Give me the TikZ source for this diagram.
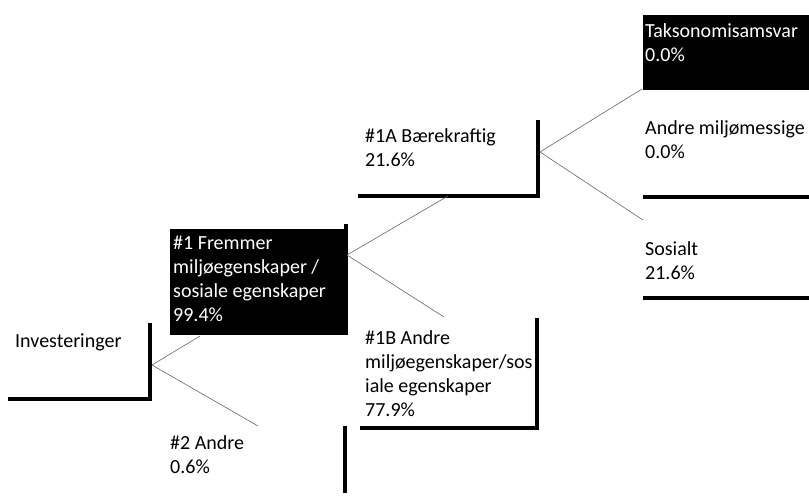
\documentclass[tikz,border=0pt]{standalone}
\usepackage{fontspec}
\setmainfont{Carlito}
\begin{document}
\begin{tikzpicture}[x=1pt,y=-1pt,
        lbl/.style={anchor=north west,inner sep=0pt,align=left,font=\fontsize{20}{24}\selectfont},
        bar/.style={line width=3.5pt},
        link/.style={black!60,line width=0.6pt}]
        \useasboundingbox (0,0) rectangle (809,498);
        % coordinates of the joints
        \coordinate (INV) at (152,365);
        \coordinate (F1) at (347,255);
        \coordinate (F1B) at (200,336);
        \coordinate (A2) at (258,426);
        \coordinate (F1A) at (540,152);
        \coordinate (F1AB) at (448,196);
        \coordinate (F1BT) at (444,317);
        \coordinate (TAX) at (642,89);
        \coordinate (SOS) at (643,220);
        % black boxes
        \fill[black] (170,229) rectangle (346,335);
        \fill[black] (643,15) rectangle (809,90);
        % brackets
        \draw[bar] (8,399) -- (150,399) -- (150,323);
        \draw[bar] (346,335) -- (346,224);
        \draw[bar] (345,426) -- (345,493);
        \draw[bar] (358,196) -- (538,196) -- (538,120);
        \draw[bar] (360,428) -- (537,428) -- (537,318);
        \draw[bar] (643,197) -- (809,197);
        \draw[bar] (643,298) -- (809,298);
        % texts
        \node[lbl] (inv) at (15,334) {Investeringer};
        \node[lbl,text=white] (f1) at (173,236) {\#1 Fremmer\\miljøegenskaper /\\sosiale egenskaper\\99.4\%};
        \node[lbl] (a2) at (170,435) {\#2 Andre\\0.6\%};
        \node[lbl] (f1a) at (365,128) {\#1A Bærekraftig\\21.6\%};
        \node[lbl] (f1b) at (365,330) {\#1B Andre\\miljøegenskaper/sos\\iale egenskaper\\77.9\%};
        \node[lbl,text=white] (tax) at (645,23) {Taksonomisamsvar\\0.0\%};
        \node[lbl] (env) at (645,120) {Andre miljømessige\\0.0\%};
        \node[lbl] (sos) at (645,241) {Sosialt\\21.6\%};
        % connectors
        \draw[link] (INV) -- (F1B);
        \draw[link] (INV) -- (A2);
        \draw[link] (F1) -- (F1AB);
        \draw[link] (F1) -- (F1BT);
        \draw[link] (F1A) -- (TAX);
        \draw[link] (F1A) -- (SOS);
\end{tikzpicture}
\end{document}
